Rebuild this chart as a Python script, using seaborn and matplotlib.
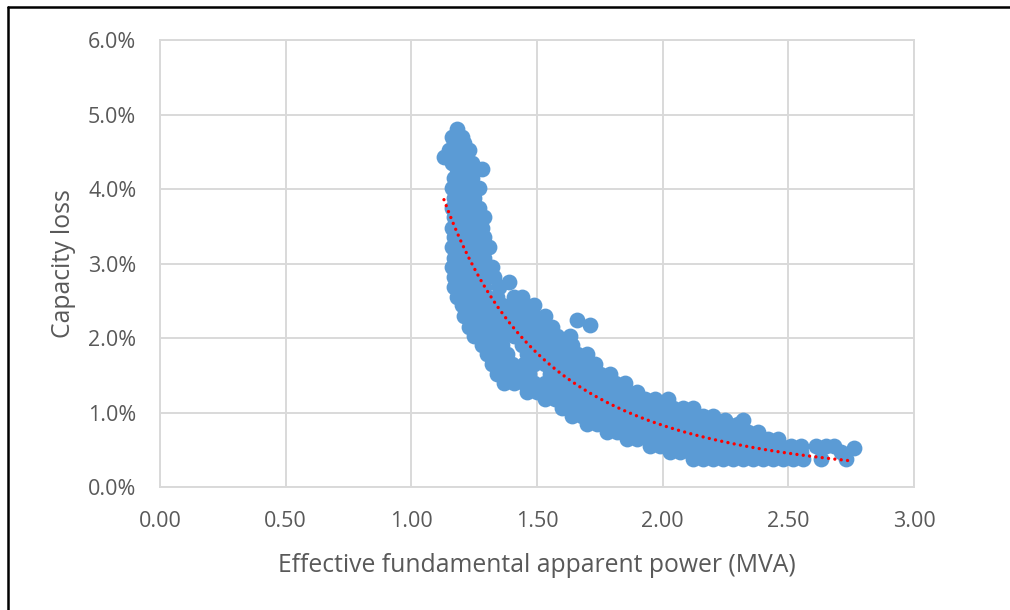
import numpy as np
import pandas as pd
import matplotlib
matplotlib.use("Agg")
import matplotlib.pyplot as plt
import seaborn as sns
from matplotlib.ticker import PercentFormatter, FormatStrFormatter
from matplotlib.lines import Line2D

sns.set_style("white")
plt.rcParams['font.family'] = ['Open Sans', 'DejaVu Sans']

# Scatter points: (capacity loss %, list of apparent power MVA)
rows = [
    (4.80, [1.18]),
    (4.70, [1.16, 1.20]),
    (4.62, [1.17, 1.21]),
    (4.52, [1.15, 1.19, 1.23]),
    (4.43, [1.13, 1.17, 1.21]),
    (4.35, [1.16, 1.20, 1.24]),
    (4.27, [1.18, 1.22, 1.28]),
    (4.15, [1.17, 1.21, 1.24]),
    (4.02, [1.16, 1.20, 1.24, 1.27]),
    (3.88, [1.17, 1.21, 1.25]),
    (3.75, [1.16, 1.20, 1.24, 1.27]),
    (3.62, [1.17, 1.21, 1.25, 1.29]),
    (3.48, [1.16, 1.20, 1.24, 1.28]),
    (3.35, [1.17, 1.21, 1.25, 1.29]),
    (3.22, [1.16, 1.20, 1.24, 1.28, 1.31]),
    (3.08, [1.17, 1.21, 1.25, 1.29]),
    (2.95, [1.16, 1.20, 1.24, 1.28, 1.32]),
    (2.82, [1.17, 1.21, 1.25, 1.29, 1.33]),
    (2.75, [1.39]),
    (2.68, [1.17, 1.21, 1.25, 1.29, 1.35]),
    (2.55, [1.18, 1.22, 1.26, 1.30, 1.34, 1.41, 1.44]),
    (2.44, [1.20, 1.24, 1.28, 1.32, 1.36, 1.40, 1.45, 1.49]),
    (2.30, [1.21, 1.25, 1.29, 1.33, 1.37, 1.41, 1.45, 1.49, 1.53]),
    (2.24, [1.66]),
    (2.17, [1.71]),
    (2.15, [1.23, 1.27, 1.31, 1.35, 1.39, 1.43, 1.47, 1.51, 1.56]),
    (2.03, [1.25, 1.29, 1.33, 1.37, 1.41, 1.45, 1.49, 1.53, 1.58, 1.63]),
    (1.90, [1.28, 1.32, 1.36, 1.44, 1.48, 1.52, 1.56, 1.60, 1.64]),
    (1.78, [1.30, 1.34, 1.38, 1.46, 1.50, 1.54, 1.58, 1.62, 1.66, 1.70]),
    (1.65, [1.32, 1.36, 1.40, 1.45, 1.49, 1.53, 1.57, 1.61, 1.65, 1.69, 1.73]),
    (1.52, [1.34, 1.38, 1.43, 1.47, 1.55, 1.59, 1.63, 1.67, 1.71, 1.75, 1.79]),
    (1.40, [1.37, 1.41, 1.45, 1.49, 1.53, 1.57, 1.61, 1.65, 1.69, 1.73, 1.77, 1.81, 1.85]),
    (1.28, [1.46, 1.50, 1.54, 1.58, 1.62, 1.66, 1.70, 1.74, 1.78, 1.82, 1.86, 1.90]),
    (1.18, [1.53, 1.57, 1.61, 1.65, 1.69, 1.73, 1.77, 1.81, 1.85, 1.89, 1.93, 1.97, 2.02]),
    (1.06, [1.60, 1.64, 1.68, 1.72, 1.76, 1.80, 1.84, 1.88, 1.92, 1.96, 2.00, 2.04, 2.08, 2.12]),
    (0.95, [1.64, 1.68, 1.72, 1.76, 1.80, 1.84, 1.88, 1.92, 1.96, 2.00, 2.04, 2.08, 2.12, 2.16, 2.20]),
    (0.90, [2.25, 2.32]),
    (0.84, [1.70, 1.74, 1.78, 1.82, 1.86, 1.90, 1.94, 1.98, 2.02, 2.06, 2.10, 2.14, 2.18, 2.22, 2.26, 2.30]),
    (0.74, [1.78, 1.82, 1.86, 1.90, 1.94, 1.98, 2.02, 2.06, 2.10, 2.14, 2.18, 2.22, 2.26, 2.30, 2.34, 2.38]),
    (0.64, [1.86, 1.90, 1.94, 1.98, 2.02, 2.06, 2.10, 2.14, 2.18, 2.22, 2.26, 2.30, 2.34, 2.38, 2.42, 2.46]),
    (0.55, [1.95, 1.99, 2.03, 2.07, 2.11, 2.15, 2.19, 2.23, 2.27, 2.31, 2.35, 2.39, 2.43, 2.47,
            2.51, 2.55, 2.61, 2.65, 2.68]),
    (0.52, [2.76]),
    (0.47, [2.03, 2.07, 2.11, 2.15, 2.19, 2.23, 2.27, 2.31, 2.35, 2.39, 2.43, 2.47, 2.51, 2.55, 2.71]),
    (0.37, [2.12, 2.16, 2.20, 2.24, 2.28, 2.32, 2.36, 2.40, 2.44, 2.48, 2.52, 2.56, 2.63, 2.73]),
]

power_mva = [x for y, xs in rows for x in xs]
capacity_loss = [y for y, xs in rows for x in xs]
df = pd.DataFrame({'power': power_mva, 'loss': capacity_loss})

x_ticks = [0.0, 0.5, 1.0, 1.5, 2.0, 2.5, 3.0]
y_ticks = [0, 1, 2, 3, 4, 5, 6]

# power trendline fitted on the points (like Excel's power trendline)
b, log_a = np.polyfit(np.log(df['power']), np.log(df['loss']), 1)
trend_x = np.linspace(df['power'].min(), df['power'].max(), 200)
trend_y = np.exp(log_a) * trend_x ** b

fig = plt.figure(figsize=(10.1, 6.1), dpi=100)
ax = fig.add_axes([0.1584, 0.2016, 0.7465, 0.7328])

grid_col = '#D9D9D9'
text_col = '#595959'

sns.scatterplot(data=df, x='power', y='loss', ax=ax, s=130, color='#5B9BD5',
                linewidth=0, alpha=1, zorder=3)
ax.plot(trend_x, trend_y, color='#FF0000', linewidth=2.4,
        linestyle=(0, (0.01, 1.9)), dash_capstyle='round', zorder=4)

ax.set_xlim(0, 3)
ax.set_ylim(0, 6)
ax.set_xticks(x_ticks)
ax.set_yticks(y_ticks)
ax.xaxis.set_major_formatter(FormatStrFormatter('%.2f'))
ax.yaxis.set_major_formatter(PercentFormatter(xmax=100, decimals=1))
ax.grid(True, color=grid_col, linewidth=1.4)
ax.set_axisbelow(True)
for sp in ax.spines.values():
    sp.set_color(grid_col)
    sp.set_linewidth(1.4)
ax.tick_params(axis='both', length=0, labelsize=15.5, labelcolor=text_col)
ax.tick_params(axis='x', pad=17)
ax.tick_params(axis='y', pad=17)

ax.set_xlabel('Effective fundamental apparent power (MVA)', fontsize=17.8, color=text_col, labelpad=15.5)
ax.set_ylabel('Capacity loss', fontsize=17.8, color=text_col, labelpad=8.5)

# screenshot border on left and top
fig.add_artist(Line2D([8 / 1010, 8 / 1010], [0, 1 - 7 / 610], color='black', linewidth=1.8))
fig.add_artist(Line2D([8 / 1010, 1], [1 - 7 / 610, 1 - 7 / 610], color='black', linewidth=1.8))

fig.savefig('out.png', dpi=100)
